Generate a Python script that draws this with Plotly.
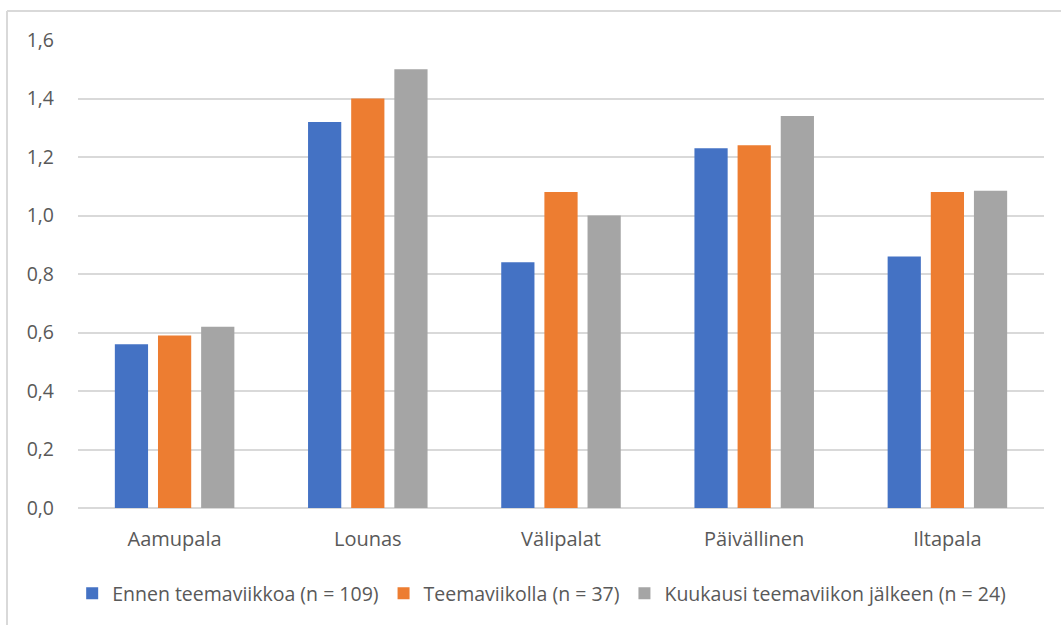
import plotly.graph_objects as go

# Meal categories and mean values for the three measurement points
categories = ["Aamupala", "Lounas", "Välipalat", "Päivällinen", "Iltapala"]

series_names = [
    "Ennen teemaviikkoa (n = 109)",
    "Teemaviikolla (n = 37)",
    "Kuukausi teemaviikon jälkeen (n = 24)",
]
before_week = [0.56, 1.32, 0.84, 1.23, 0.86]
during_week = [0.59, 1.40, 1.08, 1.24, 1.08]
month_after = [0.62, 1.50, 1.00, 1.34, 1.085]

y_ticks = [0.0, 0.2, 0.4, 0.6, 0.8, 1.0, 1.2, 1.4, 1.6]

colors = ["#4472C4", "#ED7D31", "#A5A5A5"]
text_color = "#595959"
grid_color = "#D9D9D9"
font_family = "'Open Sans', sans-serif"

fig = go.Figure()
for name, values, color in zip(series_names, [before_week, during_week, month_after], colors):
    fig.add_trace(go.Bar(
        x=categories,
        y=values,
        name=name,
        marker=dict(color=color, line=dict(width=0)),
    ))

fig.update_layout(
    width=1061,
    height=625,
    barmode="group",
    bargap=0.33,
    bargroupgap=0.23,
    separators=", ",
    plot_bgcolor="white",
    paper_bgcolor="white",
    font=dict(family=font_family, color=text_color, size=20),
    margin=dict(l=78, r=17, t=40, b=117),
    showlegend=True,
    legend=dict(
        orientation="h",
        x=0.48,
        xanchor="center",
        y=-0.183,
        yanchor="middle",
        font=dict(size=19.5, color=text_color),
        itemwidth=30,
        tracegroupgap=0,
    ),
    xaxis=dict(
        showgrid=False,
        showline=False,
        ticks="",
        tickfont=dict(size=20, color=text_color),
        ticklabelstandoff=17,
    ),
    yaxis=dict(
        range=[0, 1.6],
        tickvals=y_ticks,
        tickformat=".1f",
        showgrid=True,
        gridcolor=grid_color,
        gridwidth=1.5,
        zeroline=True,
        zerolinecolor=grid_color,
        zerolinewidth=1.5,
        showline=False,
        ticks="",
        tickfont=dict(size=19.5, color=text_color),
        ticklabelstandoff=23,
    ),
    shapes=[
        # chart frame: left and top edges
        dict(type="line", xref="paper", yref="paper",
             x0=-0.0735, x1=-0.0735, y0=-0.3, y1=1.062,
             line=dict(color=grid_color, width=2)),
        dict(type="line", xref="paper", yref="paper",
             x0=-0.0735, x1=1.05, y0=1.062, y1=1.062,
             line=dict(color=grid_color, width=2)),
    ],
)

fig.write_html("out.html")
